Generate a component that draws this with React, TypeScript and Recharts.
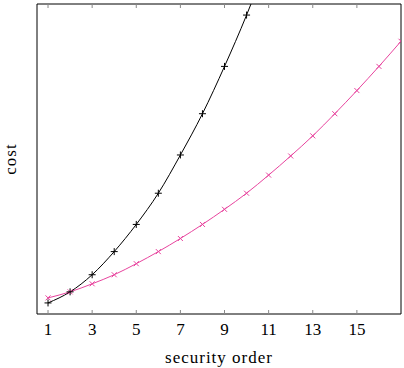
import { LineChart, Line, XAxis, YAxis, Label } from 'recharts'

// security order on the x axis
const orders = [1, 2, 3, 4, 5, 6, 7, 8, 9, 10, 11, 12, 13, 14, 15, 16, 17]
// cost, arbitrary units (y axis has no ticks)
const costBlack = [11, 22, 39, 62, 89, 120, 158, 199, 246, 297, 354]
const costPink = [16, 22, 30, 39, 50, 62, 75, 89, 104, 120, 138, 157, 177, 199, 222, 246, 271]
const xTicks = [1, 3, 5, 7, 9, 11, 13, 15]

const data = orders.map((o, i) => ({
  order: o,
  black: i < costBlack.length ? costBlack[i] : undefined,
  pink: costPink[i],
}))

const PINK = '#e8449e'
const FONT = '"Liberation Serif", "DejaVu Serif", serif'

const PlusMark = (props: any) => {
  const { cx, cy } = props
  if (cx == null || cy == null) return null
  return (
    <g stroke="#000" strokeWidth={1}>
      <line x1={cx - 3.5} y1={cy} x2={cx + 3.5} y2={cy} />
      <line x1={cx} y1={cy - 3.5} x2={cx} y2={cy + 3.5} />
    </g>
  )
}

const CrossMark = (props: any) => {
  const { cx, cy } = props
  if (cx == null || cy == null) return null
  return (
    <g stroke={PINK} strokeWidth={1}>
      <line x1={cx - 2.5} y1={cy - 2.5} x2={cx + 2.5} y2={cy + 2.5} />
      <line x1={cx - 2.5} y1={cy + 2.5} x2={cx + 2.5} y2={cy - 2.5} />
    </g>
  )
}

// tick marks only, no labels
const NoLabel = () => <g />

export default function App() {
  return (
    <div style={{ position: 'absolute', left: 0, top: 0, background: '#fff' }}>
      <LineChart width={404} height={368} data={data} margin={{ top: 4, right: 2, left: 36, bottom: 0 }}>
        {/* bottom axis: labels */}
        <XAxis
          xAxisId="main"
          dataKey="order"
          type="number"
          domain={[0.5, 17]}
          ticks={xTicks}
          allowDataOverflow
          tickLine={false}
          axisLine={{ stroke: '#000' }}
          tick={{ fill: '#000', fontSize: 17, fontFamily: FONT }}
          tickMargin={3}
          height={54}
        >
          <Label value="security order" position="insideBottom" offset={5} style={{ fill: '#000', fontSize: 17, fontFamily: FONT, letterSpacing: 1 }} />
        </XAxis>
        {/* inward tick marks, bottom */}
        <XAxis
          xAxisId="bottomTicks"
          dataKey="order"
          type="number"
          domain={[0.5, 17]}
          ticks={xTicks}
          allowDataOverflow
          mirror
          tick={NoLabel}
          tickSize={4}
          tickLine={{ stroke: '#888' }}
          axisLine={false}
          height={1}
        />
        {/* top border with inward ticks */}
        <XAxis
          xAxisId="top"
          orientation="top"
          dataKey="order"
          type="number"
          domain={[0.5, 17]}
          ticks={xTicks}
          allowDataOverflow
          mirror
          tick={NoLabel}
          tickSize={4}
          tickLine={{ stroke: '#888' }}
          axisLine={{ stroke: '#000' }}
          height={1}
        />
        <YAxis
          yAxisId="main"
          type="number"
          domain={[0, 308]}
          allowDataOverflow
          tick={false}
          tickLine={false}
          axisLine={{ stroke: '#000' }}
          width={1}
        >
          <Label value="cost" angle={-90} position="left" offset={26} style={{ fill: '#000', fontSize: 17, fontFamily: FONT, textAnchor: 'middle', letterSpacing: 1 }} />
        </YAxis>
        <YAxis
          yAxisId="right"
          orientation="right"
          type="number"
          domain={[0, 308]}
          tick={false}
          tickLine={false}
          axisLine={{ stroke: '#000' }}
          width={1}
        />
        <Line
          xAxisId="main"
          yAxisId="main"
          type="monotone"
          dataKey="pink"
          stroke={PINK}
          strokeWidth={1}
          dot={<CrossMark />}
          isAnimationActive={false}
        />
        <Line
          xAxisId="main"
          yAxisId="main"
          type="monotone"
          dataKey="black"
          stroke="#000"
          strokeWidth={1}
          dot={<PlusMark />}
          isAnimationActive={false}
        />
      </LineChart>
    </div>
  )
}
